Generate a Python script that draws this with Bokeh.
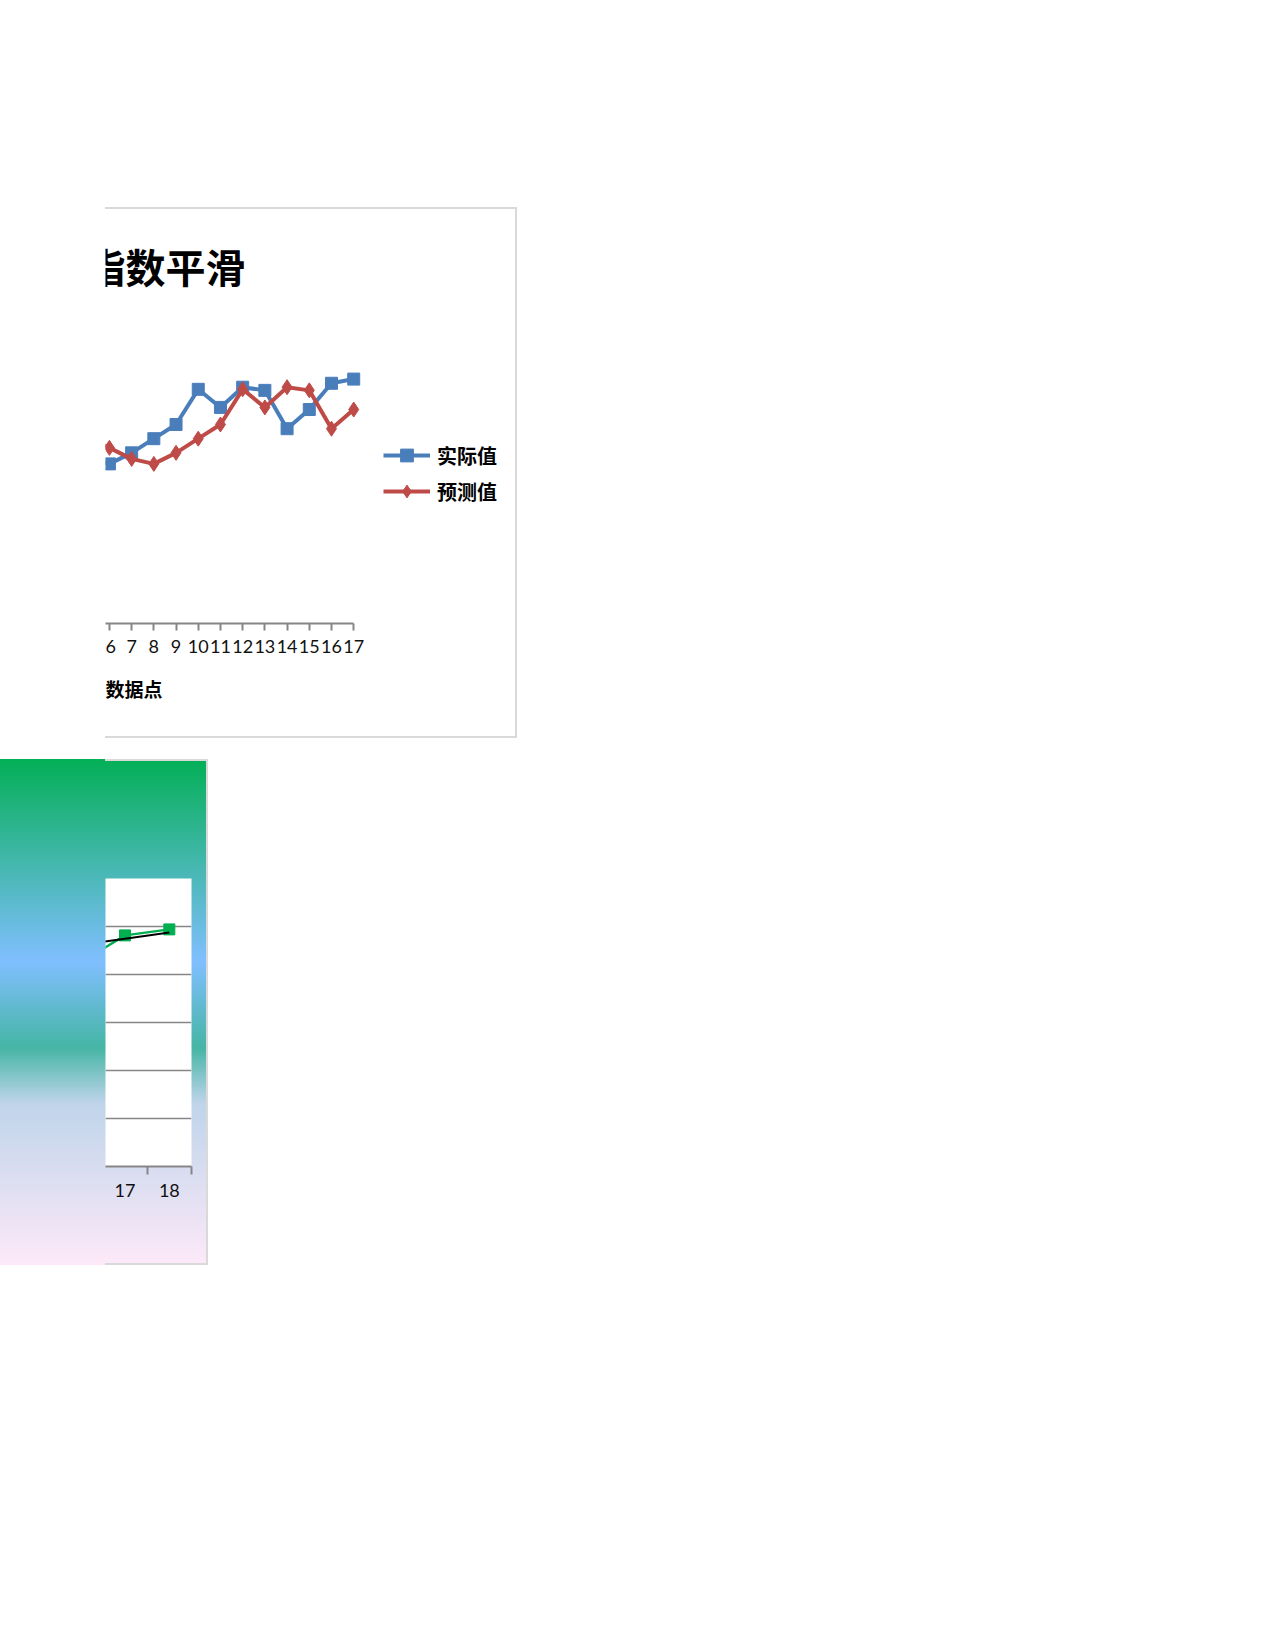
from bokeh.plotting import figure
from bokeh.models import FixedTicker, Label, Legend, LegendItem, Spacer, Range1d, Title
from bokeh.layouts import column, row
from bokeh.embed import file_html
from bokeh.resources import INLINE

# ---------------- data ----------------
# chart 1: exponential smoothing (left part of the chart is hidden behind the pane edge)
cats1 = [5, 6, 7, 8, 9, 10, 11, 12, 13, 14, 15, 16, 17]
actual = [62.7, 60.8, 65.0, 70.4, 75.8, 89.2, 82.3, 90.0, 88.8, 74.2, 81.5, 91.5, 93.1]
forecast = [71.0, 66.9, 62.7, 60.8, 65.0, 70.4, 75.8, 89.2, 82.3, 90.0, 88.8, 74.2, 81.5]
tick_cats1 = [6, 7, 8, 9, 10, 11, 12, 13, 14, 15, 16, 17]
title1 = "指数平滑"
xlabel1 = "数据点"
series_names = ["实际值", "预测值"]

# chart 2: right edge of a second chart
cats2 = [16, 17, 18]
values2 = [85.0, 96.3, 98.8]
trend2 = [92.3, 94.9, 97.5]
tick_cats2 = [17, 18]
grid2 = [0, 20, 40, 60, 80, 100, 120]

# ---------------- style ----------------
BLUE = "#4A7EBB"
RED = "#BE4B48"
GREEN = "#00B050"
AXIS_GRAY = "#868686"
BORDER = "2px solid #D9D9D9"
CJK = "Noto Sans CJK SC"
LAT = "Lato"

# ---------------- chart 1 ----------------
CW1, CH1 = 410, 527    # canvas size (element adds 2px borders)
CAT_W1 = 22.1          # px per category
K1 = 2.6               # px per value unit
frame_bottom = 410                          # canvas px
x_last_px = 247                             # canvas px of the last category
x0 = tick_cats1[-1] - x_last_px / CAT_W1
x1 = tick_cats1[-1] + (CW1 - x_last_px) / CAT_W1
y1 = frame_bottom / K1

p1 = figure(width=CW1 + 2, height=CH1 + 4, output_backend="svg", toolbar_location=None,
            x_range=Range1d(x0, x1), y_range=Range1d(0, y1), title=None,
            y_axis_location=None, min_border_left=0, min_border_right=0,
            min_border_top=0, min_border_bottom=CH1 - frame_bottom,
            background_fill_color="white", border_fill_color="white",
            outline_line_color=None,
            styles={"border-top": BORDER, "border-right": BORDER, "border-bottom": BORDER})
p1.xgrid.visible = False
p1.ygrid.visible = False
ax = p1.xaxis[0]
ax.ticker = FixedTicker(ticks=tick_cats1)
ax.bounds = (x0, tick_cats1[-1])
ax.axis_line_color = AXIS_GRAY
ax.axis_line_width = 2
ax.major_tick_line_color = AXIS_GRAY
ax.major_tick_line_width = 2
ax.major_tick_out = 7
ax.major_tick_in = 0
ax.minor_tick_line_color = None
ax.major_label_standoff = 9
ax.major_label_text_font = LAT
ax.major_label_text_font_size = "18px"
ax.major_label_text_color = "#111111"

l1 = p1.line(cats1, actual, line_color=BLUE, line_width=4)
s1 = p1.scatter(cats1, actual, marker="square", size=12, fill_color=BLUE, line_color=BLUE)
l2 = p1.line(cats1, forecast, line_color=RED, line_width=4)
s2 = p1.scatter(cats1, forecast, marker="diamond", size=15, fill_color=RED, line_color=RED)

legend = Legend(items=[LegendItem(label=series_names[0], renderers=[l1, s1]),
                       LegendItem(label=series_names[1], renderers=[l2, s2])],
                location=(278, 116), orientation="vertical")
legend.background_fill_alpha = 0
legend.border_line_color = None
legend.padding = 0
legend.margin = 0
legend.spacing = 4
legend.glyph_width = 47
legend.glyph_height = 32
legend.label_height = 20
legend.label_standoff = 7
legend.label_text_font = CJK
legend.label_text_font_style = "bold"
legend.label_text_font_size = "20px"
legend.label_text_color = "black"
p1.add_layout(legend)


def px_to_x1(px):
    return x0 + px / CAT_W1


def px_to_y1(py):
    return (frame_bottom - py) / K1


p1.add_layout(Label(x=px_to_x1(-20), y=px_to_y1(56), text=title1,
                    text_font=CJK, text_font_style="bold", text_font_size="40px",
                    text_color="black", text_align="left", text_baseline="middle"))
p1.add_layout(Title(text=xlabel1, align="left", offset=0, standoff=35,
                    text_font=CJK, text_font_style="bold", text_font_size="19px",
                    text_color="black"), "below")

# ---------------- chart 2 ----------------
CW2, CH2 = 206, 506
GRADIENT = ("linear-gradient(#D9D9D9, #D9D9D9) 105px 0px / 100% 2px no-repeat, "
            "linear-gradient(#D9D9D9, #D9D9D9) 105px 100% / 100% 2px no-repeat, "
            "linear-gradient(to bottom, #03AF56 0%, #80BFFF 40%, #45B5A5 57%, "
            "#BFD4EA 68%, #FDE9F9 100%)")
p2 = figure(width=CW2 + 2, height=CH2, output_backend="svg", toolbar_location=None,
            x_range=Range1d(16.56, 18.5), y_range=Range1d(grid2[0], grid2[-1]), title=None,
            y_axis_location=None, min_border_left=105, min_border_right=17,
            min_border_top=119, min_border_bottom=99,
            background_fill_color="white", border_fill_color=None,
            outline_line_color=None,
            styles={"background": GRADIENT, "border-right": BORDER})
p2.xgrid.visible = False
p2.ygrid.ticker = FixedTicker(ticks=grid2)
p2.ygrid.grid_line_color = AXIS_GRAY
p2.ygrid.grid_line_width = 1.5
bx = p2.xaxis[0]
bx.ticker = FixedTicker(ticks=tick_cats2, minor_ticks=[17.5, 18.5])
bx.axis_line_color = AXIS_GRAY
bx.axis_line_width = 2
bx.major_tick_line_color = None
bx.major_tick_out = 0
bx.major_tick_in = 0
bx.minor_tick_line_color = AXIS_GRAY
bx.minor_tick_line_width = 2
bx.minor_tick_out = 8
bx.minor_tick_in = 0
bx.major_label_standoff = 9
bx.major_label_text_font = LAT
bx.major_label_text_font_size = "18px"
bx.major_label_text_color = "#111111"

p2.line(cats2, values2, line_color=GREEN, line_width=2.5)
p2.scatter(cats2, values2, marker="square", size=11, fill_color=GREEN, line_color=GREEN)
p2.line(cats2, trend2, line_color="black", line_width=2)

layout = column(
    Spacer(width=10, height=207),
    row(Spacer(width=105, height=10), p1),
    Spacer(width=10, height=21),
    p2,
)

open("out.html", "w").write(file_html(layout, INLINE))
